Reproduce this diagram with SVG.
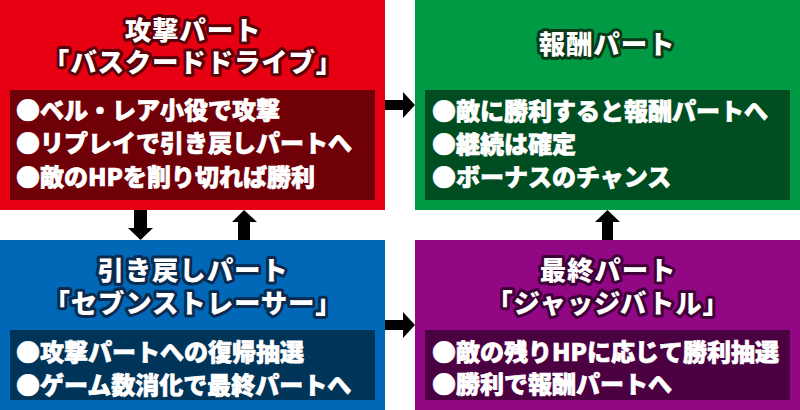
<svg xmlns="http://www.w3.org/2000/svg" width="800" height="410" viewBox="0 0 800 410">
<style>
text{font-family:"Noto Sans CJK JP","Noto Sans",sans-serif;font-weight:900;fill:#fff}
.title{font-size:26.5px;text-anchor:middle;stroke-width:6px;stroke-linejoin:round;paint-order:stroke;letter-spacing:0.8px}
.body{font-size:24px;stroke:#fff;stroke-width:0.7px}
.arrow{fill:#000}
</style>
<rect width="800" height="410" fill="#fff"/>
<g id="attack">
<rect x="0" y="0" width="385" height="210" fill="#E60012"/>
<rect x="10" y="90" width="365" height="110" fill="#6F0008"/>
<text class="title" x="193" y="40" stroke="#5A0008">攻撃パート</text>
<text class="title" x="193" y="72" stroke="#5A0008">「バスクードドライブ」</text>
<text class="body" x="16" y="119">●ベル・レア小役で攻撃</text>
<text class="body" x="16" y="152">●リプレイで引き戻しパートへ</text>
<text class="body" x="16" y="186">●敵のHPを削り切れば勝利</text>
</g>
<g id="reward">
<rect x="415" y="0" width="385" height="210" fill="#009A44"/>
<rect x="425" y="90" width="365" height="110" fill="#004D21"/>
<text class="title" x="607" y="54" stroke="#0B3A18">報酬パート</text>
<text class="body" x="432" y="120">●敵に勝利すると報酬パートへ</text>
<text class="body" x="432" y="153">●継続は確定</text>
<text class="body" x="432" y="186">●ボーナスのチャンス</text>
</g>
<g id="pullback">
<rect x="0" y="240" width="385" height="170" fill="#0068B6"/>
<rect x="10" y="330" width="365" height="70" fill="#003459"/>
<text class="title" x="193" y="280" stroke="#0A2A4F">引き戻しパート</text>
<text class="title" x="193" y="313" stroke="#0A2A4F">「セブンストレーサー」</text>
<text class="body" x="16" y="361">●攻撃パートへの復帰抽選</text>
<text class="body" x="16" y="394">●ゲーム数消化で最終パートへ</text>
</g>
<g id="final">
<rect x="415" y="240" width="385" height="170" fill="#920783"/>
<rect x="425" y="330" width="365" height="70" fill="#4B0042"/>
<text class="title" x="608" y="280" stroke="#3E0036">最終パート</text>
<text class="title" x="608" y="313" stroke="#3E0036">「ジャッジバトル」</text>
<text class="body" x="432" y="361">●敵の残りHPに応じて勝利抽選</text>
<text class="body" x="432" y="393">●勝利で報酬パートへ</text>
</g>
<g id="connectors">
<path class="arrow" d="M385 100H403V92L415 105L403 118V110H385Z"/>
<path class="arrow" d="M385 320H403V312L415 325L403 338V330H385Z"/>
<path class="arrow" d="M134 210H147V228H153L140.5 240L128 228H134Z"/>
<path class="arrow" d="M238 240H250V222H257L244 210L232 222H238Z"/>
<path class="arrow" d="M602 240H613V222H620L607.5 210L595 222H602Z"/>
</g>
</svg>
